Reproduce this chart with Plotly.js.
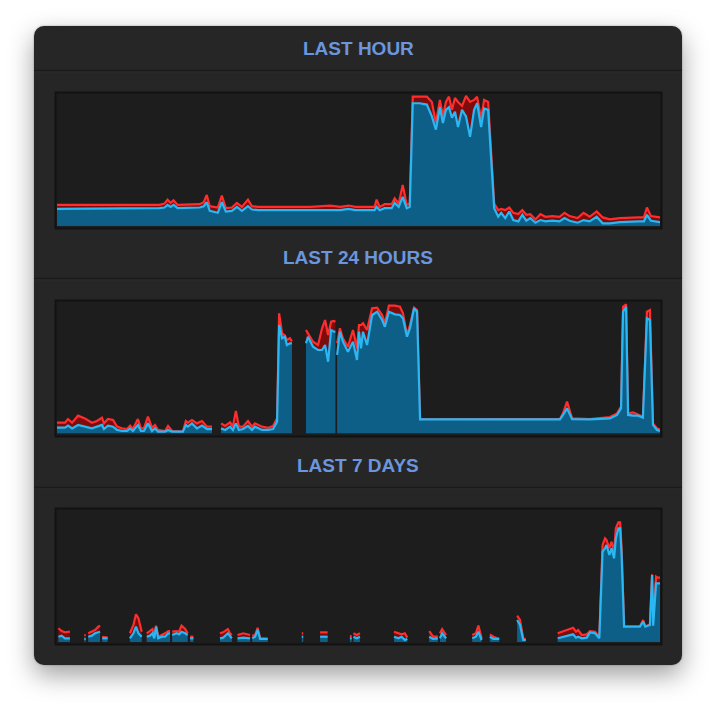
<!DOCTYPE html>
<html>
<head>
<meta charset="utf-8">
<script src="https://cdn.plot.ly/plotly-3.0.1.min.js"></script>
<style>
  html, body { margin: 0; padding: 0; background: #ffffff; width: 716px; height: 708px; overflow: hidden; }
  #panel { position: absolute; left: 34px; top: 26px; width: 648px; height: 639px; border-radius: 10px;
           background: #262626; box-shadow: 0 10px 26px rgba(0,0,0,0.38), 0 0 2px rgba(0,0,0,0.35); }
  #chart { position: absolute; left: 0; top: 0; width: 716px; height: 708px; }
</style>
</head>
<body>
<div id="panel"></div>
<div id="chart"></div>
<script>
// ---------- DATA ----------
const TITLES = ["LAST HOUR", "LAST 24 HOURS", "LAST 7 DAYS"];

// Last hour (x in minutes)
const HOUR_X = [0,1.3,3.3,5.3,7.3,9.3,10.2,10.7,11.0,11.3,
  11.6,12.0,13.2,14.2,14.6,14.9,15.2,15.6,16.0,16.4,
  16.8,17.4,17.9,18.4,19.0,19.4,20.0,21.2,23.2,25.2,
  27.2,28.2,29.0,29.7,30.6,31.6,31.8,32.1,32.6,33.3,
  33.6,34.0,34.4,34.8,35.1,35.4,36.1,36.8,37.3,37.7,
  38.1,38.4,38.7,39.0,39.3,39.6,39.9,40.3,40.7,41.1,
  41.5,41.8,42.2,42.5,42.9,43.2,43.5,43.9,44.2,44.6,
  45.0,45.4,45.9,46.3,46.7,47.1,47.6,48.1,48.6,49.3,
  50.0,50.5,51.0,51.8,52.4,53.0,53.7,54.3,55.0,56.0,
  56.9,57.9,58.4,58.7,59.1,60];
const HOUR_BLUE = [13,13,13,13.5,13,13,13.5,14,16,14.5,
  16,13.5,13.5,14,15,18,11.5,11,10,18,
  11,11.5,14.5,11.5,15,12.5,12,12,12,12,
  12.5,12,13,12,12,12,14.5,12,13.5,13.5,
  17.5,14.5,22,13.5,14.5,93,93,92,83,73,
  90,78,88,90,82,86.5,75,88,83,67.5,
  88,93,75,89,88,52.5,13.5,7,10,6,
  11,4.5,3.5,8.5,4,6,2.5,4.5,3.5,4,
  3.5,6,4,2.5,4.5,3.5,7,2,2,3,
  3.5,3.5,3.5,8.5,4,3];
const HOUR_RED = [16,16,16.5,16,16,16.5,16,17,20,17.5,
  19.5,16,16,16.5,18,23.5,15,14.5,14,23,
  13.5,14,17.5,14.5,20,15,14.5,14.5,14.5,14.5,
  15.5,14.5,15.5,14.5,14.5,14.5,20,14.5,16.5,16.5,
  21,17,31,16,17,98,98,98,94,78,
  95.5,83,94,98,88,97,94,91,98.5,94,
  95.5,98,81,95.5,94,58,17,12,13,12,
  14,10,9,12,8.5,9,5,9,7,7.5,
  7,10,7.5,6,10,7,11,6.5,5,6,
  6.5,6.5,6.5,14,7.5,6.5];

// Last 24 hours (x in hours), split into segments where data is missing
const DAY_X = [
  [0,0.32,0.44,0.6,0.84,1.11,1.39,1.59,1.79,1.87,2.03,2.23,2.39,2.59,2.79,2.91,3.02,3.22,3.34,3.46,
   3.62,3.78,3.90,4.02,4.30,4.42,4.58,5.01,5.13,5.21,5.37,5.57,5.77,5.97,6.17],
  [6.53,6.69,6.89,7.00,7.12,7.24,7.40,7.60,7.76,7.88,8.16,8.40,8.60,8.76,8.84,8.96,9.07,9.15,9.27,9.35],
  [9.91,9.99,10.19,10.39,10.55,10.67,10.79,10.91,11.02,11.08],
  [11.15,11.26,11.38,11.58,11.78,11.94,12.02,12.10,12.18,12.34,12.54,12.74,12.94,13.05,13.21,13.45,13.65,13.77,13.93,14.05,
   14.21,14.33,14.45,15.24,16.84,18.43,20.02,20.14,20.30,20.50,21.21,22.01,22.29,22.45,22.53,22.65,22.73,22.93,23.12,23.32,
   23.48,23.60,23.72,23.88,24.0]
];
const DAY_BLUE = [
  [4.4,4.4,6.0,3.9,6.5,5.2,3.9,5.2,6.5,3.4,6.0,5.2,2.7,1.9,1.9,3.9,1.9,6.5,1.9,1.9,
   7.7,1.9,3.9,1.4,1.4,2.7,1.4,1.4,6.5,5.2,7.7,3.9,6.0,3.4,3.4],
  [3.9,2.7,5.2,2.7,7.7,2.7,3.4,5.7,2.7,5.2,2.7,2.7,3.4,9.0,82.5,72.4,73.6,67.3,68.6,68.6],
  [68.6,73.6,66.0,63.5,63.5,67.3,54.6,78.7,77.4,77.4],
  [59.7,77.4,69.8,62.2,69.8,55.9,77.4,64.8,77.4,67.3,90.1,92.6,86.3,81.2,92.6,90.6,90.1,87.6,73.6,80.0,
   95.2,92.6,10.8,10.8,10.8,10.8,10.8,14.1,19.1,11.0,10.8,11.5,14.1,19.1,92.6,96.4,14.1,13.6,13.6,12.0,
   87.6,86.3,6.5,2.7,2.0]
];
const DAY_RED = [
  [8.2,8.2,11.0,8.2,13.6,11.5,8.2,9.5,12.0,7.7,11.0,10.3,5.2,3.9,3.4,6.0,3.4,11.0,3.9,3.9,
   12.8,4.4,6.5,2.7,1.9,5.7,1.9,1.4,9.5,8.2,10.3,7.7,9.5,5.2,5.2],
  [7.7,5.7,8.5,5.2,17.1,5.2,5.2,9.5,5.2,7.7,5.2,4.4,5.7,11.5,91.4,76.2,74.5,71.1,72.4,70.0],
  [78.7,76.2,69.8,67.3,80.0,86.3,74.9,85.0,85.6,85.0],
  [68.6,80.0,72.4,66.0,78.7,64.8,82.5,82.5,83.8,78.7,95.2,95.7,90.1,83.8,97.2,97.2,96.4,91.4,74.9,82.5,
   95.7,93.9,10.8,10.8,10.8,10.8,11.0,15.3,24.2,11.5,11.0,12.5,15.3,20.4,96.4,98.2,15.3,16.1,14.6,12.8,
   92.6,93.9,7.7,3.9,3.0]
];

// Last 7 days (x in hours), split into segments where data is missing
const WEEK_X = [
  [0.4,1.3,2.2,3.6],[7.6,8.0],[8.7,9.7,10.6,11.5,12.0],[12.6,14.1],[20.3,21.3,22.0,22.7,23.6],
  [25.0,25.9,26.6,27.1,27.6,28.2,29.2,30.1,31.0,31.5],[32.1,33.3,34.0,34.7,35.7,36.4],[37.1,38.0],
  [45.4,46.3,47.6,48.2,48.7],[50.3,51.9,53.8],[54.4,55.2,55.9,56.6,58.7],[68.2,68.6],[73.3,75.4],
  [81.6,82.1],[82.6,83.5,84.4],[93.9,95.1,96.0,96.9,97.6],[103.7,104.8,106.1],[106.7,107.3,108.4],
  [115.7,116.7,117.4,118.3],[120.6,121.6,123.2],[128.2,129.0,129.9,130.6],
  [139.5,141.1,142.5,143.8,144.6,145.2,146.2,147.6,148.5,149.9,151.1,152.0,152.7,153.1,153.9,154.5,
   155.2,155.7,156.4,156.9,157.3,158.0,160.6,162.4,163.3,163.9,165.2,165.8,166.1,166.9,167.4,168]
];
const WEEK_BLUE = [
  [4.0,4.8,2.8,2.8],[2.3,2.3],[4.0,4.8,6.6,7.3,7.8],[2.8,2.8],[2.8,6.6,11.6,6.6,4.0],
  [4.0,4.8,6.6,2.8,11.6,2.8,4.0,4.0,6.6,6.6],[5.3,6.6,5.8,7.8,6.6,5.3],[2.8,2.8],
  [2.8,3.3,6.6,4.0,2.8],[2.8,3.3,2.8],[2.8,4.0,9.1,2.3,2.3],[4.0,4.0],[4.0,4.0],
  [2.8,2.8],[4.0,2.8,4.0],[4.0,2.8,4.0,1.5,2.3],[4.0,2.3,2.8],[2.8,6.6,2.8],
  [2.8,4.0,7.8,1.5],[4.0,2.3,2.3],[16.7,12.9,1.5,1.5],
  [2.8,4.0,5.3,5.8,3.3,4.0,2.8,3.3,7.3,6.6,2.8,68.4,71.0,73.5,65.9,71.0,
   63.4,78.5,86.1,86.1,65.9,11.6,11.6,11.6,15.4,11.6,12.9,50.8,12.4,44.4,44.4,44.4]
];
const WEEK_RED = [
  [10.4,8.3,7.3,7.8],[5.3,5.3],[6.6,7.8,9.1,11.6,12.4],[4.0,3.3],[6.6,12.9,21.0,17.9,7.8],
  [6.6,8.3,9.8,5.3,12.4,4.0,5.3,6.6,8.3,8.3],[7.8,8.3,7.8,12.4,9.8,6.6],[4.0,4.0],
  [6.6,7.3,9.8,6.6,5.3],[5.3,6.6,5.3],[4.8,5.3,10.8,2.8,2.3],[6.6,6.6],[7.3,7.3],
  [4.5,4.5],[6.6,5.3,6.6],[7.8,6.6,5.8,6.6,3.3],[8.3,4.0,4.0],[6.6,9.8,5.3],
  [5.3,6.6,12.4,2.8],[5.8,4.0,2.3],[19.9,16.7,2.3,2.3],
  [6.6,8.3,9.8,10.8,7.8,9.1,5.3,5.8,8.3,7.8,4.0,73.5,78.5,77.3,71.0,76.0,
   68.4,86.1,90.7,90.7,71.0,11.6,11.6,11.6,16.7,11.6,13.4,51.3,13.4,49.5,48.7,48.7]
];

// ---------- BUILD ----------
const W = 716, H = 708;
const PX = x => x / W, PY = y => 1 - y / H;

const RED_LINE = '#ff2d2d', RED_FILL = '#7d0c0c';
const BLUE_LINE = '#2bb7f2', BLUE_FILL = '#0e5f88';

function segTraces(x, blue, red, n) {
  const xa = n === 1 ? 'x' : 'x' + n, ya = n === 1 ? 'y' : 'y' + n;
  return [
    { x: x, y: red, xaxis: xa, yaxis: ya, type: 'scatter', mode: 'lines', fill: 'tozeroy',
      fillcolor: RED_FILL, line: { color: RED_LINE, width: 2.2, shape: 'linear' }, hoverinfo: 'skip' },
    { x: x, y: blue, xaxis: xa, yaxis: ya, type: 'scatter', mode: 'lines', fill: 'tozeroy',
      fillcolor: BLUE_FILL, line: { color: BLUE_LINE, width: 2.2, shape: 'linear' }, hoverinfo: 'skip' }
  ];
}

let data = [];
data = data.concat(segTraces(HOUR_X, HOUR_BLUE, HOUR_RED, 1));
DAY_X.forEach((xs, i) => { data = data.concat(segTraces(xs, DAY_BLUE[i], DAY_RED[i], 2)); });
WEEK_X.forEach((xs, i) => { data = data.concat(segTraces(xs, WEEK_BLUE[i], WEEK_RED[i], 3)); });

// chart boxes (top, bottom px) and baselines
const boxes = [[92, 229], [300, 437], [508, 645]];
const plotY = [[94, 226], [302, 433.5], [510, 642]];
const titleY = [48, 257, 465];
const sepY = [70, 278, 487];
const ranges = [[0, 60], [0, 24], [0, 168]];

const layout = {
  width: W, height: H,
  margin: { l: 0, r: 0, t: 0, b: 0, pad: 0 },
  paper_bgcolor: 'rgba(0,0,0,0)',
  plot_bgcolor: 'rgba(0,0,0,0)',
  showlegend: false,
  shapes: [],
  annotations: []
};
for (let i = 0; i < 3; i++) {
  const sfx = i === 0 ? '' : String(i + 1);
  layout['xaxis' + sfx] = { domain: [PX(57), PX(660)], range: ranges[i], visible: false, fixedrange: true,
                            anchor: 'y' + sfx };
  layout['yaxis' + sfx] = { domain: [PY(plotY[i][1]), PY(plotY[i][0])], range: [0, 100], visible: false,
                            fixedrange: true, anchor: 'x' + sfx };
  layout.shapes.push({ type: 'rect', xref: 'paper', yref: 'paper', layer: 'below',
    x0: PX(55.5), x1: PX(661.5), y0: PY(boxes[i][1] - 0.5), y1: PY(boxes[i][0] + 0.5),
    fillcolor: '#1d1d1d', line: { color: '#121212', width: 2 } });
  layout.shapes.push({ type: 'line', xref: 'paper', yref: 'paper', layer: 'below',
    x0: PX(34), x1: PX(682), y0: PY(sepY[i] + 0.5), y1: PY(sepY[i] + 0.5),
    line: { color: '#1a1a1a', width: 1.5 } });
  layout.shapes.push({ type: 'line', xref: 'paper', yref: 'paper', layer: 'below',
    x0: PX(34), x1: PX(682), y0: PY(sepY[i] + 2), y1: PY(sepY[i] + 2),
    line: { color: '#2b2b2b', width: 1 } });
  layout.annotations.push({ xref: 'paper', yref: 'paper', x: PX(358), y: PY(titleY[i]),
    xanchor: 'center', yanchor: 'middle', showarrow: false, text: TITLES[i],
    font: { family: 'Liberation Sans, Arial, sans-serif', size: 19, color: '#6b96de', weight: 'bold' } });
}

Plotly.newPlot('chart', data, layout, { staticPlot: true, displayModeBar: false });
</script>
</body>
</html>
